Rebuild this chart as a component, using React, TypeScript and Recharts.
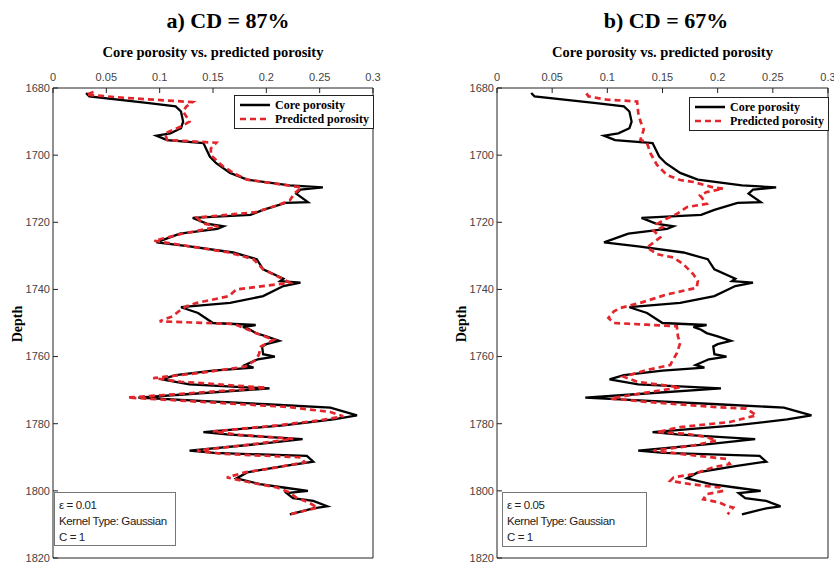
import React from "react";
import { LineChart, Line, XAxis, YAxis, Legend } from "recharts";

const depthTicks = [1680, 1700, 1720, 1740, 1760, 1780, 1800, 1820];
const porosityTicks = [0, 0.05, 0.1, 0.15, 0.2, 0.25, 0.3];

// core porosity (same well in both panels)
const coreDepth = [
  1681.5, 1682.5, 1684.5, 1685.5, 1687, 1690, 1692, 1693.5, 1694.2, 1695.5, 1696.4, 1700.4, 1702.4,
  1705.3, 1707.3, 1709, 1709.6, 1710.3, 1711.5, 1714, 1714.2, 1716.3, 1717.8, 1718.7, 1720.4, 1721.2,
  1722, 1723.4, 1726, 1727.2, 1729, 1731, 1734, 1736.8, 1737.5, 1738, 1739, 1742, 1744, 1745.3, 1747,
  1750, 1750.6, 1751.2, 1752, 1753, 1754, 1755.3, 1756.3, 1757, 1759.3, 1760, 1760.8, 1762.5, 1763.3,
  1764.2, 1765.5, 1766.8, 1768.3, 1769.5, 1771.3, 1772.2, 1773.2, 1774.2, 1775.2, 1777.5, 1778.7,
  1780.5, 1782.5, 1783.2, 1784.6, 1786, 1788, 1788.7, 1789.6, 1791.3, 1792.6, 1794.5, 1796.3, 1798,
  1799, 1800, 1800.7, 1802.2, 1803, 1804.6, 1805.2, 1807,
];
const corePorosity = [
  0.031, 0.034, 0.09, 0.115, 0.12, 0.122, 0.12, 0.11, 0.097, 0.107, 0.141, 0.147, 0.153,
  0.166, 0.182, 0.222, 0.253, 0.232, 0.228, 0.239, 0.218, 0.197, 0.185, 0.131, 0.144, 0.16,
  0.154, 0.119, 0.097, 0.128, 0.169, 0.191, 0.197, 0.216, 0.213, 0.232, 0.216, 0.197, 0.166, 0.12, 0.136,
  0.15, 0.19, 0.178, 0.185, 0.19, 0.2, 0.212, 0.2, 0.196, 0.197, 0.208, 0.192, 0.18, 0.188,
  0.15, 0.115, 0.102, 0.128, 0.203, 0.122, 0.08, 0.138, 0.2, 0.26, 0.285, 0.263,
  0.216, 0.141, 0.163, 0.234, 0.194, 0.128, 0.151, 0.238, 0.244, 0.216, 0.182, 0.172, 0.194,
  0.216, 0.239, 0.219, 0.225, 0.244, 0.257, 0.244, 0.222,
];

// a) predicted porosity, CD = 87%
const predDepthA = [
  1681.2, 1682, 1683, 1684.2, 1685.5, 1687, 1690, 1691.5, 1693.5, 1695.5, 1696.3, 1698, 1700, 1703,
  1705.5, 1707.3, 1709.6, 1711.5, 1713.5, 1715, 1717, 1718.6, 1720.3, 1721.3, 1723.5, 1725.5, 1727,
  1729, 1731, 1734, 1736.5, 1738, 1740, 1742, 1744, 1745, 1746.5, 1748, 1749.5, 1750.3, 1752, 1753,
  1755, 1757, 1759.4, 1761, 1763, 1764.8, 1766.4, 1767.5, 1769.3, 1771, 1772.2, 1773.5, 1775, 1776.5,
  1777.8, 1779, 1780.5, 1782.3, 1783.3, 1784.5, 1786, 1788, 1789, 1790, 1791.5, 1793, 1794.5, 1796,
  1797.5, 1799, 1800.5, 1802, 1803.5, 1805, 1806, 1807,
];
const predPorosityA = [
  0.038, 0.031, 0.07, 0.131, 0.125, 0.122, 0.128, 0.12, 0.105, 0.107, 0.153, 0.148, 0.148, 0.158,
  0.17, 0.182, 0.233, 0.226, 0.222, 0.21, 0.19, 0.135, 0.14, 0.155, 0.12, 0.095, 0.125,
  0.165, 0.188, 0.197, 0.213, 0.222, 0.172, 0.165, 0.135, 0.125, 0.118, 0.112, 0.1, 0.17, 0.183, 0.19,
  0.207, 0.195, 0.193, 0.19, 0.18, 0.14, 0.094, 0.12, 0.2, 0.125, 0.07, 0.14, 0.22, 0.26,
  0.272, 0.25, 0.21, 0.15, 0.175, 0.225, 0.19, 0.135, 0.16, 0.232, 0.236, 0.21, 0.18, 0.163,
  0.185, 0.21, 0.222, 0.228, 0.24, 0.248, 0.235, 0.222,
];

// b) predicted porosity, CD = 67%
const predDepthB = [
  1681.6, 1682.5, 1683.5, 1684, 1687.4, 1689.9, 1692.4, 1695.4, 1696.4, 1699.4, 1702.9, 1705.9, 1707.4,
  1708, 1709.6, 1710, 1711, 1712, 1714.5, 1715.5, 1717.5, 1719, 1720.5, 1721.5, 1722.5, 1724.5, 1727.5,
  1729.5, 1730.5, 1732.5, 1735.5, 1737.5, 1739.5, 1741.5, 1744, 1745.5, 1746.5, 1748.5, 1750, 1750.5,
  1751, 1754, 1756, 1759, 1762.5, 1764, 1766, 1767.5, 1769.2, 1771, 1772.5, 1773.5, 1775, 1775.5,
  1777.5, 1779.5, 1781, 1782.5, 1783, 1784, 1785, 1786.5, 1788, 1789, 1790.5, 1792, 1793, 1795, 1796,
  1797, 1798, 1799, 1800, 1801, 1802.5, 1803.5, 1804.5, 1805, 1807,
];
const predPorosityB = [
  0.081, 0.083, 0.1, 0.127, 0.128, 0.13, 0.133, 0.13, 0.136, 0.139, 0.145, 0.154, 0.166,
  0.178, 0.196, 0.205, 0.19, 0.184, 0.19, 0.172, 0.163, 0.153, 0.145, 0.15, 0.142, 0.148, 0.136,
  0.145, 0.16, 0.169, 0.178, 0.182, 0.181, 0.154, 0.13, 0.112, 0.106, 0.101, 0.106, 0.136,
  0.163, 0.164, 0.166, 0.163, 0.157, 0.136, 0.115, 0.127, 0.166, 0.13, 0.103, 0.136, 0.196, 0.226,
  0.235, 0.211, 0.166, 0.145, 0.172, 0.19, 0.199, 0.178, 0.142, 0.166, 0.208, 0.211, 0.196, 0.178, 0.16,
  0.157, 0.175, 0.202, 0.205, 0.19, 0.187, 0.202, 0.208, 0.214, 0.209,
];

const toPoints = (depth: number[], porosity: number[]) =>
  depth.map((d, i) => ({ depth: d, porosity: porosity[i] }));

const coreData = toPoints(coreDepth, corePorosity);

const tickStyle = { fontSize: 11, fill: "#444", fontFamily: "Liberation Sans, Arial, sans-serif" };

function LegendBox({ payload }: any) {
  return (
    <div
      style={{
        border: "1px solid #222",
        background: "#fff",
        padding: "2px 4px 2px 4px",
        fontFamily: "Liberation Serif, Times New Roman, serif",
        fontWeight: "bold",
        fontSize: 12,
        lineHeight: "14px",
      }}
    >
      {(payload || []).map((p: any) => (
        <div key={p.value} style={{ display: "flex", alignItems: "center" }}>
          <svg width={32} height={10} style={{ marginRight: 4 }}>
            <line
              x1={1}
              y1={5}
              x2={31}
              y2={5}
              stroke={p.color}
              strokeWidth={2.5}
              strokeDasharray={p.value === "Predicted porosity" ? "6 4" : undefined}
            />
          </svg>
          <span>{p.value}</span>
        </div>
      ))}
    </div>
  );
}

function Panel({
  left,
  width,
  plotLeft,
  plotRight,
  title,
  titleX,
  pred,
  eps,
  legendLeft,
  legendTop,
  box,
}: any) {
  const topH = 30;
  const yW = 40;
  return (
    <div style={{ position: "absolute", left, top: 0, width, height: 567 }}>
      <div
        style={{
          position: "absolute",
          left: titleX - 150,
          width: 300,
          top: 9,
          textAlign: "center",
          fontFamily: "Liberation Serif, Times New Roman, serif",
          fontWeight: "bold",
          fontSize: 22,
          lineHeight: "24px",
        }}
      >
        {title}
      </div>
      <div
        style={{
          position: "absolute",
          left: (plotLeft + plotRight) / 2 - 150,
          width: 300,
          top: 44,
          textAlign: "center",
          fontFamily: "Liberation Serif, Times New Roman, serif",
          fontWeight: "bold",
          fontSize: 14.5,
          lineHeight: "16px",
        }}
      >
        Core porosity vs. predicted porosity
      </div>
      <div
        style={{
          position: "absolute",
          left: plotLeft - 35 - 30,
          width: 60,
          top: 316,
          textAlign: "center",
          transform: "rotate(-90deg)",
          fontFamily: "Liberation Serif, Times New Roman, serif",
          fontWeight: "bold",
          fontSize: 14,
          lineHeight: "16px",
        }}
      >
        Depth
      </div>
      <LineChart
        layout="vertical"
        width={width}
        height={567}
        margin={{ top: 88 - topH, left: plotLeft - yW, right: width - plotRight - 1, bottom: 567 - 558 - 1 }}
      >
        <XAxis
          xAxisId="top"
          orientation="top"
          type="number"
          dataKey="porosity"
          domain={[0, 0.3]}
          ticks={porosityTicks}
          height={topH}
          tickSize={-5}
          tickMargin={12}
          tick={tickStyle}
          stroke="#222"
          interval={0}
        />
        <XAxis
          xAxisId="bottom"
          orientation="bottom"
          type="number"
          dataKey="porosity"
          domain={[0, 0.3]}
          ticks={porosityTicks}
          height={1}
          tickSize={-5}
          tickFormatter={() => ""}
          stroke="#222"
          interval={0}
        />
        <YAxis
          yAxisId="left"
          type="number"
          dataKey="depth"
          domain={[1680, 1820]}
          ticks={depthTicks}
          width={yW}
          tickSize={-5}
          tickMargin={8}
          tick={tickStyle}
          stroke="#222"
          interval={0}
        />
        <YAxis
          yAxisId="right"
          orientation="right"
          type="number"
          dataKey="depth"
          domain={[1680, 1820]}
          ticks={depthTicks}
          width={1}
          tickSize={-5}
          tickFormatter={() => ""}
          stroke="#222"
          interval={0}
        />
        <Line
          xAxisId="top"
          yAxisId="left"
          data={coreData}
          dataKey="porosity"
          name="Core porosity"
          stroke="#000"
          strokeWidth={2.3}
          dot={false}
          isAnimationActive={false}
        />
        <Line
          xAxisId="top"
          yAxisId="left"
          data={pred}
          dataKey="porosity"
          name="Predicted porosity"
          stroke="#e3262b"
          strokeWidth={2.7}
          strokeDasharray="6 4"
          dot={false}
          isAnimationActive={false}
        />
        <Legend
          layout="vertical"
          align="center"
          verticalAlign="middle"
          content={<LegendBox />}
          wrapperStyle={{ left: legendLeft - left, top: legendTop, width: "auto" }}
        />
      </LineChart>
      <div
        style={{
          position: "absolute",
          left: box.left - left,
          top: box.top,
          width: box.width,
          height: box.height,
          boxSizing: "border-box",
          border: "1px solid #777",
          background: "#fff",
          padding: "4px 0 0 4px",
          fontFamily: "Liberation Sans, Arial, sans-serif",
          fontSize: 11.5,
          letterSpacing: -0.4,
          lineHeight: "16px",
          color: "#222",
        }}
      >
        <div>ε = {eps}</div>
        <div>Kernel Type: Gaussian</div>
        <div>C = 1</div>
      </div>
    </div>
  );
}

export default function App() {
  return (
    <div style={{ position: "absolute", left: 0, top: 0, width: 834, height: 567, background: "#fff" }}>
      <Panel
        left={0}
        width={420}
        plotLeft={53}
        plotRight={373}
        title="a) CD = 87%"
        titleX={228}
        pred={toPoints(predDepthA, predPorosityA)}
        eps="0.01"
        legendLeft={234}
        legendTop={95}
        box={{ left: 54, top: 492, width: 122, height: 54 }}
      />
      <Panel
        left={440}
        width={394}
        plotLeft={57}
        plotRight={388}
        title="b) CD = 67%"
        titleX={226}
        pred={toPoints(predDepthB, predPorosityB)}
        eps="0.05"
        legendLeft={689}
        legendTop={97}
        box={{ left: 502, top: 492, width: 145, height: 55 }}
      />
    </div>
  );
}
